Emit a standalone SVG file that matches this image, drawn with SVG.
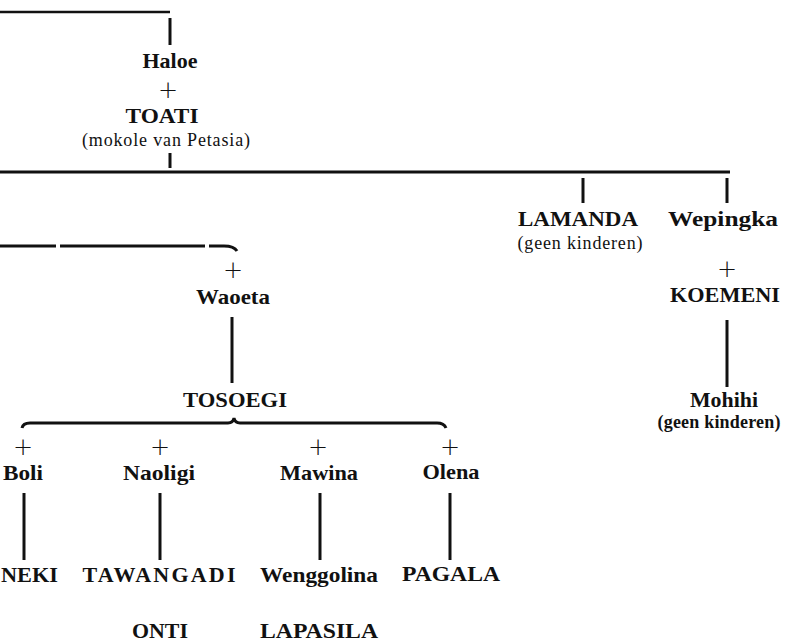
<svg xmlns="http://www.w3.org/2000/svg" width="786" height="642" viewBox="0 0 786 642">
<style>
text{font-family:"Liberation Serif","Times New Roman",serif;fill:#111;text-anchor:middle}
.n{font-size:22px;font-weight:bold}
.s{font-size:18px}
.p{font-family:"DejaVu Sans","Liberation Sans",sans-serif;font-size:24px;font-weight:200}
.c line,.c path{stroke:#111;stroke-width:3;fill:none}
</style>
<rect width="786" height="642" fill="#fff"/>
<g id="connectors" class="c">
<path d="M0 12 H170" style="stroke-width:2.5"/>
<line x1="170" y1="18" x2="170" y2="45"/>
<line x1="170" y1="153" x2="170" y2="168"/>
<path d="M0 172 H730"/>
<line x1="583" y1="178" x2="583" y2="203"/>
<line x1="727" y1="178" x2="727" y2="203"/>
<path d="M0 246 H56 M60 246 H205 M209 246 H224 Q234 246 237 251"/>
<line x1="232" y1="317" x2="232" y2="383"/>
<path d="M22 428 Q23 423 30 423 H228 Q233 423 234 418 Q235 423 240 423 H437 Q444 423 446 428"/>
<line x1="24" y1="493" x2="24" y2="560"/>
<line x1="160" y1="493" x2="160" y2="560"/>
<line x1="320" y1="493" x2="320" y2="560"/>
<line x1="450" y1="493" x2="450" y2="560"/>
<line x1="727" y1="320" x2="727" y2="387"/>
</g>
<g id="haloe"><text class="n" x="170" y="68" textLength="55" lengthAdjust="spacingAndGlyphs">Haloe</text><text class="p" x="168" y="97.5">+</text></g>
<g id="toati"><text class="n" x="162" y="123" textLength="73" lengthAdjust="spacingAndGlyphs">TOATI</text><text class="s" x="166" y="146" textLength="168" lengthAdjust="spacing">(mokole van Petasia)</text></g>
<g id="lamanda"><text class="n" x="578" y="226" textLength="120" lengthAdjust="spacingAndGlyphs">LAMANDA</text><text class="s" x="580" y="249" textLength="125" lengthAdjust="spacing">(geen kinderen)</text></g>
<g id="wepingka"><text class="n" x="723" y="226" textLength="110" lengthAdjust="spacingAndGlyphs">Wepingka</text><text class="p" x="727" y="276.5">+</text></g>
<g id="koemeni"><text class="n" x="725" y="302" textLength="110" lengthAdjust="spacingAndGlyphs">KOEMENI</text></g>
<g id="mohihi"><text class="n" x="724" y="407" textLength="68" lengthAdjust="spacingAndGlyphs">Mohihi</text><text class="s" x="719" y="428" textLength="123" lengthAdjust="spacing" font-weight="bold">(geen kinderen)</text></g>
<g id="waoeta"><text class="p" x="233" y="277.5">+</text><text class="n" x="233" y="304" textLength="74" lengthAdjust="spacingAndGlyphs">Waoeta</text></g>
<g id="tosoegi"><text class="n" x="235" y="407" textLength="104" lengthAdjust="spacingAndGlyphs">TOSOEGI</text></g>
<g id="boli"><text class="p" x="23" y="454.5">+</text><text class="n" x="23" y="480" textLength="40" lengthAdjust="spacingAndGlyphs">Boli</text></g>
<g id="naoligi"><text class="p" x="160" y="454.5">+</text><text class="n" x="159" y="480" textLength="72" lengthAdjust="spacingAndGlyphs">Naoligi</text></g>
<g id="mawina"><text class="p" x="318" y="454.5">+</text><text class="n" x="319" y="480" textLength="78" lengthAdjust="spacingAndGlyphs">Mawina</text></g>
<g id="olena"><text class="p" x="450" y="454.5">+</text><text class="n" x="451" y="479" textLength="57" lengthAdjust="spacingAndGlyphs">Olena</text></g>
<g id="neki"><text class="n" x="1" y="582" style="text-anchor:start" textLength="57" lengthAdjust="spacingAndGlyphs">NEKI</text></g>
<g id="tawangadi"><text class="n" x="159" y="582" textLength="153" lengthAdjust="spacing">TAWANGADI</text></g>
<g id="wenggolina"><text class="n" x="319" y="582" textLength="118" lengthAdjust="spacingAndGlyphs">Wenggolina</text></g>
<g id="pagala"><text class="n" x="451" y="581" textLength="98" lengthAdjust="spacingAndGlyphs">PAGALA</text></g>
<g id="onti"><text class="n" x="160" y="638" textLength="56" lengthAdjust="spacingAndGlyphs">ONTI</text></g>
<g id="lapasila"><text class="n" x="319" y="638" textLength="118" lengthAdjust="spacingAndGlyphs">LAPASILA</text></g>
</svg>
